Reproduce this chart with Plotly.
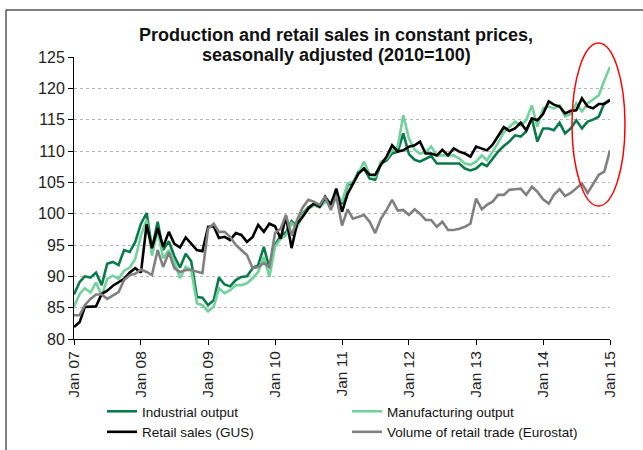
import pandas as pd
import plotly.graph_objects as go

months = pd.date_range("2007-01-01", "2015-01-01", freq="MS")

industrial = [
    87.1, 89.1, 90.0, 89.8, 90.6, 88.6, 92.0, 92.3, 91.8, 94.2, 93.9, 95.5,
    98.4, 100.1, 94.4, 98.7, 94.2, 95.6, 93.2, 91.4, 93.6, 92.4, 86.7, 86.6,
    85.4, 86.2, 89.8, 88.7, 88.4, 89.4, 89.9, 90.0, 91.3, 91.8, 94.7, 91.3,
    95.0, 96.5, 97.0, 98.8, 98.0, 100.0, 101.0, 101.5, 101.2, 102.0, 101.6, 102.7,
    101.6, 104.6, 104.8, 106.7, 107.2, 105.6, 105.4, 108.0, 108.5, 109.6, 109.9, 112.8,
    109.5, 108.6, 108.3, 108.8, 109.2, 108.0, 108.0, 108.0, 108.0, 108.0, 107.2, 106.9,
    107.2, 108.0, 107.6, 108.8, 109.9, 110.8, 111.5, 112.5, 112.3, 113.1, 115.2, 111.5,
    113.6, 113.6, 113.3, 114.5, 112.8, 113.6, 114.9, 113.6, 114.7, 115.0, 115.5, 117.6,
    118.2,
]

manufacturing = [
    85.2, 87.2, 88.1, 87.4, 89.0, 86.9, 89.6, 90.1, 89.6, 90.9, 91.4, 92.8,
    96.5, 99.0, 93.3, 97.3, 92.9, 94.2, 92.3, 89.7, 91.5, 91.0, 85.7, 85.4,
    84.4, 85.2, 88.1, 87.3, 87.8, 88.6, 88.6, 88.9, 89.7, 90.7, 93.1, 89.9,
    94.7, 96.0, 96.5, 98.5, 97.8, 99.8, 100.8, 101.3, 101.0, 101.8, 101.9, 103.2,
    101.9, 104.8, 105.1, 106.4, 108.3, 106.2, 105.9, 108.3, 108.8, 110.1, 110.7, 115.7,
    112.0, 110.2, 109.6, 109.8, 110.7, 109.3, 109.3, 109.3, 109.3, 108.8, 108.0, 107.8,
    108.3, 109.3, 108.5, 109.9, 111.3, 113.0, 113.8, 114.7, 114.1, 114.9, 117.3, 113.9,
    116.8, 117.1, 116.8, 117.3, 115.5, 115.9, 117.6, 116.3, 117.6, 118.2, 118.9, 121.3,
    123.4,
]

retail_gus = [
    81.9, 82.7, 85.1, 85.1, 85.2, 87.2, 87.7, 88.5, 89.0, 89.6, 90.6, 91.3,
    90.6, 98.3, 94.5, 97.7, 94.7, 97.1, 95.2, 94.6, 96.2, 95.2, 94.2, 94.0,
    97.9, 98.0, 96.1, 96.3, 95.8, 96.9, 96.6, 95.5, 96.3, 98.2, 97.1, 98.4,
    98.0, 96.0, 99.6, 94.5, 98.4, 99.5, 100.8, 101.6, 101.1, 102.7, 101.4, 104.0,
    100.3, 103.2, 104.8, 106.4, 107.2, 106.2, 106.2, 107.8, 109.1, 110.9, 109.9, 110.1,
    110.7, 110.9, 111.5, 109.6, 109.6, 109.3, 110.2, 109.3, 110.4, 109.9, 109.6, 109.1,
    110.7, 110.4, 110.1, 111.0, 112.3, 113.8, 113.2, 113.6, 114.5, 113.3, 115.2, 114.9,
    115.9, 117.9, 117.4, 117.1, 116.0, 116.4, 116.5, 118.4, 117.1, 116.8, 117.5, 117.5,
    118.1,
]

retail_eurostat = [
    83.8, 83.8, 85.4, 86.4, 87.1, 87.1, 86.4, 86.9, 87.5, 89.4, 90.2, 90.4,
    91.1, 90.7, 90.2, 94.2, 91.5, 93.8, 91.3, 90.7, 91.0, 91.0, 90.8, 90.5,
    97.6, 98.4, 97.1, 97.1, 96.3, 95.0, 94.2, 93.4, 91.3, 91.5, 92.1, 91.5,
    96.9, 97.6, 99.8, 96.5, 99.0, 101.0, 102.2, 101.9, 101.4, 102.7, 100.6, 102.8,
    98.1, 100.7, 99.2, 99.5, 99.8, 98.7, 96.9, 99.2, 100.6, 102.2, 100.5, 100.6,
    99.8, 100.7, 100.0, 99.0, 99.0, 97.9, 98.7, 97.4, 97.4, 97.6, 97.9, 98.4,
    102.4, 100.7, 101.4, 101.9, 103.0, 103.0, 103.8, 103.9, 104.0, 103.0, 104.3, 103.5,
    102.3, 101.6, 103.0, 103.9, 102.8, 103.3, 104.0, 104.8, 103.3, 104.8, 106.2, 106.7,
    110.1,
]

series_names = ["Industrial output", "Manufacturing output",
                "Retail sales (GUS)", "Volume of retail trade (Eurostat)"]
series_values = [industrial, manufacturing, retail_gus, retail_eurostat]
series_colors = ["#0b7a4b", "#72d29c", "#000000", "#808080"]

year_ticks = pd.date_range("2007-01-01", "2015-01-01", freq="YS")
year_labels = ["Jan 07", "Jan 08", "Jan 09", "Jan 10", "Jan 11",
               "Jan 12", "Jan 13", "Jan 14", "Jan 15"]

title_lines = ["Production and retail sales in constant prices,",
               "seasonally adjusted (2010=100)"]

fig = go.Figure()
for name, vals, col in zip(series_names, series_values, series_colors):
    fig.add_trace(go.Scatter(x=months, y=vals, mode="lines", name=name,
                             line=dict(color=col, width=2.6)))

W, H = 643, 450
L, R, T, B = 74, 33, 57, 111
pw = W - L - R
ph = H - T - B

def px_x(x):
    return (x - L) / pw

def px_y(y):
    return (H - B - y) / ph

FONT = "Liberation Sans, Arial, sans-serif"

fig.update_layout(
    width=W, height=H,
    margin=dict(l=L, r=R, t=T, b=B, autoexpand=False),
    paper_bgcolor="white", plot_bgcolor="white",
    font=dict(family=FONT, color="#222222"),
    showlegend=True,
    legend=dict(orientation="h", x=px_x(102), y=px_y(396), xanchor="left", yanchor="top",
                entrywidth=200, entrywidthmode="pixels",
                font=dict(size=13.5, color="#111111"), tracegroupgap=0,
                bgcolor="rgba(0,0,0,0)"),
    xaxis=dict(type="date", range=[months[0], months[-1]],
               tickvals=list(year_ticks), ticktext=year_labels, tickangle=-90,
               ticks="outside", ticklen=5, tickcolor="black",
               showline=True, linecolor="black", linewidth=1,
               showgrid=False, zeroline=False,
               tickfont=dict(size=15.5, color="#222222")),
    yaxis=dict(range=[80, 125], dtick=5, tick0=80,
               ticks="outside", ticklen=5, tickcolor="black",
               showline=True, linecolor="black", linewidth=1,
               showgrid=True, gridcolor="#b5b5b5", griddash="dot", gridwidth=1,
               zeroline=False, tickfont=dict(size=16, color="#222222")),
)

# white box behind the title (hides the top gridline like the original)
fig.add_shape(type="rect", xref="paper", yref="paper",
              x0=px_x(135), x1=px_x(537), y0=px_y(64), y1=px_y(22),
              fillcolor="white", line=dict(width=0), layer="above")

for i, line in enumerate(title_lines):
    fig.add_annotation(text="<b>" + line + "</b>", xref="paper", yref="paper",
                       x=px_x(336), y=px_y(35 + 20 * i), xanchor="center", yanchor="middle",
                       showarrow=False, font=dict(size=18, color="#111111"))

# red ellipse highlighting recent data
fig.add_shape(type="circle", xref="paper", yref="paper",
              x0=px_x(572), x1=px_x(625), y0=px_y(206), y1=px_y(43),
              line=dict(color="#ff0000", width=1.5), layer="above")

# outer frame
fig.add_shape(type="rect", xref="paper", yref="paper",
              x0=px_x(6), x1=px_x(700), y0=px_y(500), y1=px_y(10),
              line=dict(color="black", width=1), layer="above")

fig.write_html("out.html", config={"displayModeBar": False},
               post_script="document.body.style.margin='0';")
